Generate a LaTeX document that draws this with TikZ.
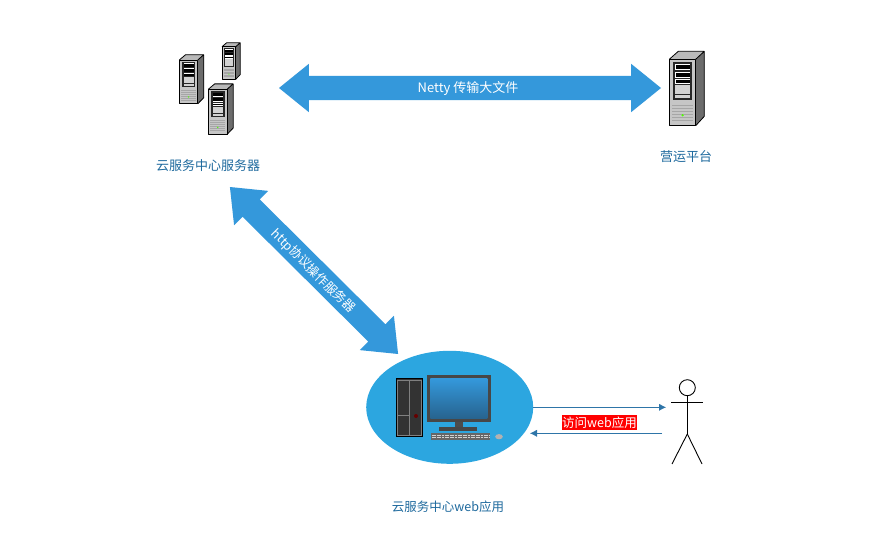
\documentclass[tikz,border=0pt]{standalone}
\usepackage{fontspec}
\setmainfont{Noto Sans CJK SC}
\usetikzlibrary{shapes.arrows, shapes.geometric, arrows.meta}
\definecolor{linkblue}{HTML}{3498DB}
\definecolor{padblue}{HTML}{2CA6E0}
\definecolor{titleblue}{HTML}{1F6A9E}
\definecolor{flowblue}{HTML}{2E75A8}
\begin{document}
\begin{tikzpicture}
        [
            x=1pt, y=-1pt,
            every node/.style={font=\fontsize{13}{15}\selectfont},
            small/.style={font=\fontsize{12.5}{15}\selectfont},
            title/.style={text=titleblue, inner sep=0pt},
            link/.style={double arrow, fill=linkblue, text=white, inner xsep=0pt,
                         inner ysep=7pt, text height=10pt, text depth=0pt,
                         minimum width=48pt, double arrow head extend=12pt,
                         double arrow tip angle=78},
            flow/.style={draw=flowblue, -{Latex[length=7pt, width=7pt]}},
            limb/.style={draw=black, line width=0.9pt},
            server/.pic={
                \fill [gray!55] (0,0) -- (9,-8) -- (35,-8) -- (26.4,0) -- cycle;
                \fill [gray!85!black] (26.4,0) -- (35,-8) -- (35,57) -- (26.4,66.4) -- cycle;
                \fill [gray!45] (0,0) rectangle (26.4,66.4);
                \fill [black!85] (4,3) rectangle (23,41);
                \foreach \y/\h in {5/6, 12.5/6, 20/4.5}
                    \fill [white] (6,\y) rectangle (21,\y+\h);
                \foreach \y/\h in {6/4, 13.5/4, 21/2.5}
                    \fill [black] (6.5,\y) rectangle (20.5,\y+\h);
                \foreach \y/\h in {26/4.5, 31/4, 36/3}
                    \fill [gray!35] (6,\y) rectangle (21,\y+\h);
                \foreach \y in {46,49,52,55,58,61}
                    \draw [gray!70, line width=0.7pt] (3,\y) -- (24,\y);
                \fill [green!70!yellow] (13.3,56) circle (1.2);
                \draw [black, line width=0.8pt, line join=round] (0,0) rectangle (26.4,66.4);
                \draw [black, line width=0.8pt, line join=round]
                    (0,0) -- (9,-8) -- (35,-8) -- (35,57) -- (26.4,66.4)
                    (26.4,0) -- (35,-8);
            }
        ]
        \useasboundingbox (0,0) rectangle (883,553);
        \fill [white] (0,0) rectangle (883,553);

        \pic [xscale=0.7, yscale=0.66] at (179.3,60) {server};
        \pic [xscale=0.52, yscale=0.49] at (222,46.7) {server};
        \pic [xscale=0.71, yscale=0.68] at (208.3,89.3) {server};
        \pic at (669.3,59.3) {server};

        \node (cloud) [title] at (208,165.5) {云服务中心服务器};
        \node (ops) [title] at (686,156.5) {营运平台};
        \node (web) [title, small] at (448,506.5) {云服务中心web应用};

        \node (netty) [link, minimum height=382pt] at (470,88) {Netty 传输大文件\hspace*{4pt}};
        \node (http) [link, small, minimum height=237pt, rotate=-44.8] at (314,270.5) {http协议操作服务器};

        \node (pad) [ellipse, fill=padblue, minimum width=167pt, minimum height=113pt, inner sep=0pt] at (449.7,407.3) {};

        \fill [black] (396,378.3) rectangle (422.7,436.7);
        \fill [black!80] (397,379.3) rectangle (421.7,435.7);
        \draw [gray, line width=0.8pt] (397.5,380) rectangle (421,435.2)
              (409.5,380) -- (409.5,435.2) (397.5,415.5) -- (409.5,415.5);
        \fill [black!60!red] (416,416) circle (2);
        \fill [black!72] (427,375) rectangle (490.7,422.3);
        \shade [top color=linkblue, bottom color=flowblue!85!black] (430.3,378.7) rectangle (487.3,418.3);
        \fill [black!70] (455,422.3) rectangle (462.7,427.3);
        \fill [black!72] (439.3,426.7) rectangle (477.3,430.7);
        \fill [gray!80!black] (430.7,432.7) rectangle (490,440);
        \draw [gray!35, line width=1pt, dash pattern=on 2pt off 0.6pt] (431.5,435) -- (489,435);
        \draw [gray!35, line width=0.8pt, dash pattern=on 2pt off 0.6pt] (431.5,437.3) -- (489,437.3);
        \fill [gray!60] (499,436.7) ellipse (3.8 and 2.6);

        \node (head) [circle, draw=black, line width=0.9pt, minimum width=16pt, inner sep=0pt] at (687.3,387.7) {};
        \coordinate (hip) at (687.3,434);
        \coordinate (armL) at (671,402.3);
        \coordinate (armR) at (702.7,402.3);
        \coordinate (footL) at (672,464);
        \coordinate (footR) at (702,464);
        \draw [limb] (head) -- (hip);
        \draw [limb] (armL) -- (armR);
        \foreach \foot in {footL, footR}
            \draw [limb] (hip) -- (\foot);

        \coordinate (actorIn) at (666,407.3);
        \coordinate (actorOut) at (662,433.3);
        \coordinate (padIn) at (530,433.3);
        \draw [flow] (pad.east |- actorIn) -- (actorIn);
        \draw [flow] (actorOut) -- (padIn);
        \node (visit) [small, fill=red, text=white, inner xsep=0.5pt, inner ysep=0pt, minimum height=15.5pt] at (599.5,422.7) {访问web应用};
    \end{tikzpicture}
\end{document}
